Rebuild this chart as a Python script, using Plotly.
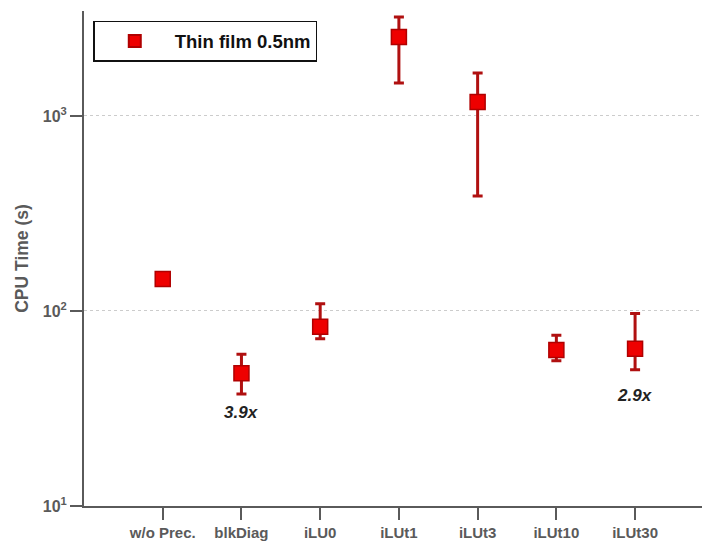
import math
import plotly.graph_objects as go

# Preconditioner benchmark: CPU time per method (thin film 0.5nm)
methods = ["w/o Prec.", "blkDiag", "iLU0", "iLUt1", "iLUt3", "iLUt10", "iLUt30"]
cpu_time = [146, 48, 83, 2540, 1180, 63, 64]
err_plus = [0, 12, 26, 680, 480, 12, 33]
err_minus = [0, 10.5, 11, 1064, 791, 7.5, 14]

speedup_labels = ["3.9x", "2.9x"]
speedup_methods = ["blkDiag", "iLUt30"]
speedup_y = [30.3, 37]

major_ticks = [10, 100, 1000]
minor_ticks = [d * 10 ** e for e in (1, 2, 3) for d in range(2, 10) if d * 10 ** e <= 3000]

x_idx = list(range(len(methods)))
font_family = "Liberation Sans, Arial, sans-serif"
axis_gray = "#5a5a5a"

# plot geometry
width, height = 702, 544
margin = dict(l=84, r=0, t=11, b=38)
x_range = [-1, 6.85]
y_range = [1, 3.538]
px_per_x = (width - margin["l"] - margin["r"]) / (x_range[1] - x_range[0])
px_per_decade = (height - margin["t"] - margin["b"]) / (y_range[1] - y_range[0])
major_len, minor_len = 12, 7

fig = go.Figure()
fig.add_trace(go.Scatter(
    x=x_idx, y=cpu_time, mode="markers", name="<b>Thin film 0.5nm</b>",
    marker=dict(symbol="square", size=15, color="#ee0000",
                line=dict(color="#b00000", width=1.5)),
    error_y=dict(type="data", symmetric=False, array=err_plus, arrayminus=err_minus,
                 color="#b01010", thickness=3, width=5),
))

# tick marks drawn as cap-less error bars hanging off the axis lines
y_base = 10 ** y_range[0]
x_tick_drop = y_base - 10 ** (y_range[0] - major_len / px_per_decade)
fig.add_trace(go.Scatter(
    x=x_idx, y=[y_base] * len(x_idx), mode="markers", showlegend=False, hoverinfo="skip",
    cliponaxis=False, marker=dict(size=1, color="rgba(0,0,0,0)"),
    error_y=dict(type="data", symmetric=False, array=[0] * len(x_idx),
                 arrayminus=[x_tick_drop] * len(x_idx),
                 color=axis_gray, thickness=2, width=0),
))
for vals, tlen in ((major_ticks, major_len), (minor_ticks, minor_len)):
    fig.add_trace(go.Scatter(
        x=[x_range[0]] * len(vals), y=vals, mode="markers", showlegend=False,
        hoverinfo="skip", cliponaxis=False, marker=dict(size=1, color="rgba(0,0,0,0)"),
        error_x=dict(type="data", symmetric=False, array=[0] * len(vals),
                     arrayminus=[tlen / px_per_x] * len(vals),
                     color=axis_gray, thickness=2, width=0),
    ))

# speed-up labels (annotation y on a log axis is given in log10 units)
for lbl, m, yv in zip(speedup_labels, speedup_methods, speedup_y):
    fig.add_annotation(x=methods.index(m), y=math.log10(yv), text=f"<b><i>{lbl}</i></b>",
                       showarrow=False, font=dict(family=font_family, size=17, color="#222"))

fig.update_layout(
    template="simple_white",
    width=width, height=height, margin=margin,
    paper_bgcolor="white", plot_bgcolor="white",
    font=dict(family=font_family, color=axis_gray),
    showlegend=True,
    legend=dict(x=0.015, y=0.98, xanchor="left", yanchor="top",
                bordercolor="#111", borderwidth=1.5, bgcolor="white",
                font=dict(family=font_family, size=18.5, color="#111"),
                itemsizing="constant", itemwidth=70),
)

fig.update_xaxes(
    range=x_range, tickmode="array", tickvals=x_idx,
    ticktext=[f"<b>{m}</b>" for m in methods],
    showgrid=False, zeroline=False, showline=True, linecolor=axis_gray, linewidth=2,
    ticks="outside", ticklen=major_len, tickwidth=2, tickcolor=axis_gray,
    tickfont=dict(size=15, color=axis_gray),
)

fig.update_yaxes(
    type="log", range=y_range, tickmode="array",
    tickvals=major_ticks,
    ticktext=["<b>10<sup>1</sup></b>", "<b>10<sup>2</sup></b>", "<b>10<sup>3</sup></b>"],
    showgrid=True, gridcolor="#cccccc", griddash="dot", gridwidth=1,
    zeroline=False, showline=True, linecolor=axis_gray, linewidth=2,
    ticks="outside", ticklen=major_len, tickwidth=2, tickcolor=axis_gray,
    tickfont=dict(size=16, color=axis_gray),
    title=dict(text="<b>CPU Time (s)</b>", font=dict(size=17.5, color=axis_gray), standoff=10),
)

fig.write_html("out.html")
